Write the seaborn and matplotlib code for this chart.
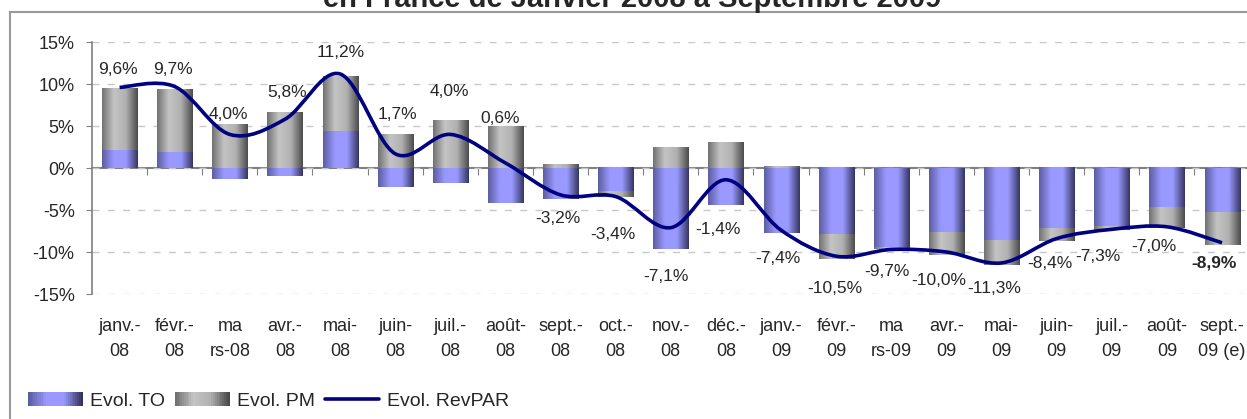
import numpy as np
import seaborn as sns
import matplotlib.pyplot as plt
from matplotlib.colors import LinearSegmentedColormap
from matplotlib.patches import Rectangle, PathPatch
from matplotlib.path import Path
from matplotlib.lines import Line2D
from matplotlib.legend_handler import HandlerBase
from matplotlib.ticker import FuncFormatter

sns.set_style("white")
plt.rcParams["font.family"] = ["Liberation Sans", "DejaVu Sans"]

# %% data
months = ["janv.-\n08", "févr.-\n08", "ma\nrs-08", "avr.-\n08", "mai-\n08", "juin-\n08",
          "juil.-\n08", "août-\n08", "sept.-\n08", "oct.-\n08", "nov.-\n08", "déc.-\n08",
          "janv.-\n09", "févr.-\n09", "ma\nrs-09", "avr.-\n09", "mai-\n09", "juin-\n09",
          "juil.-\n09", "août-\n09", "sept.-\n09 (e)"]
evol_to = [2.2, 1.9, -1.3, -1.0, 4.4, -2.3, -1.8, -4.2, -3.7, -2.9, -9.7, -4.4,
           -7.7, -7.9, -9.5, -7.7, -8.6, -7.2, -7.0, -4.7, -5.3]
evol_pm = [7.3, 7.5, 5.2, 6.6, 6.5, 4.0, 5.6, 4.9, 0.4, -0.6, 2.5, 3.0,
           0.2, -2.9, -0.2, -2.7, -2.9, -1.5, -0.4, -2.4, -3.9]
evol_revpar = [9.6, 9.7, 4.0, 5.8, 11.2, 1.7, 4.0, 0.6, -3.2, -3.4, -7.1, -1.4,
               -7.4, -10.5, -9.7, -10.0, -11.3, -8.4, -7.3, -7.0, -8.9]
revpar_labels = ["9,6%", "9,7%", "4,0%", "5,8%", "11,2%", "1,7%", "4,0%", "0,6%",
                 "-3,2%", "-3,4%", "-7,1%", "-1,4%", "-7,4%", "-10,5%", "-9,7%",
                 "-10,0%", "-11,3%", "-8,4%", "-7,3%", "-7,0%", "-8,9%"]

# label offsets (pixels) as placed in the original chart
lab_dx = [-2, -2, -1, 2, 1, 2, -1, -5, -3, -3, -5, -8, -3, -1, -4, -8, -7, -7, -14, -13, -8]
lab_dy = [18, 17, 20, 27, 21, 39, 43, 44, -24, -38, -49, -50, -28, -32, -22, -28, -26,
          -25, -27, -20, -20]

blue_cmap = LinearSegmentedColormap.from_list("to", ["#5c5ca0", "#9999ff", "#9999ff", "#34345f"], N=256)
gray_cmap = LinearSegmentedColormap.from_list("pm", ["#707070", "#c4c4c4", "#b0b0b0", "#4a4a4a"], N=256)

# %% figure
fig = plt.figure(figsize=(12.47, 4.19), dpi=100)
ax = fig.add_axes([92 / 1247, 0.2983, 0.9283, 0.6014])

x = np.arange(len(months))
to = np.array(evol_to)
pm = np.array(evol_pm)
# excel-like stacking: positive and negative parts stack separately
pm_bottom = np.where(np.sign(pm) == np.sign(to), to, 0.0)

bar_w = 0.635
bars_to = ax.bar(x, to, width=bar_w, color="none", edgecolor="none")
bars_pm = ax.bar(x, pm, width=bar_w, bottom=pm_bottom, color="none", edgecolor="none")

grad = np.linspace(0, 1, 256).reshape(1, -1)
for bars, cmap in [(bars_to, blue_cmap), (bars_pm, gray_cmap)]:
    for p in bars:
        x0, y0, w, h = p.get_x(), p.get_y(), p.get_width(), p.get_height()
        ax.imshow(grad, cmap=cmap, extent=[x0, x0 + w, y0, y0 + h], aspect="auto",
                  interpolation="bilinear", zorder=2)

# smoothed RevPAR line (bezier through the points, like excel smoothing)
pts = np.column_stack([x, evol_revpar]).astype(float)
ext = np.vstack([pts[0], pts, pts[-1]])
verts = [pts[0]]
codes = [Path.MOVETO]
for i in range(len(pts) - 1):
    p0, p1, p2, p3 = ext[i], ext[i + 1], ext[i + 2], ext[i + 3]
    verts += [p1 + (p2 - p0) / 6, p2 - (p3 - p1) / 6, p2]
    codes += [Path.CURVE4] * 3
ax.add_patch(PathPatch(Path(verts, codes), fill=False, edgecolor="#000080", lw=2.6,
                       zorder=4, capstyle="butt"))

for i, (v, t) in enumerate(zip(evol_revpar, revpar_labels)):
    ax.annotate(t, (i, v), xytext=(lab_dx[i] * 0.72, lab_dy[i] * 0.72),
                textcoords="offset points", ha="center", va="center", fontsize=12.5,
                fontweight="bold" if i == len(evol_revpar) - 1 else "normal", zorder=5)

ax.set_xlim(-0.5, len(months) - 0.5)
ax.set_ylim(-15, 15)
ax.set_yticks([-15, -10, -5, 0, 5, 10, 15])
ax.yaxis.set_major_formatter(FuncFormatter(lambda v, _: f"{int(v)}%"))
ax.set_xticks(x)
ax.set_xticklabels(months)
ax.tick_params(axis="x", length=0, pad=17, labelsize=13)
ax.tick_params(axis="y", length=4.5, pad=8, labelsize=13, direction="out", color="#808080", left=True)
ax.yaxis.grid(True, color="#c8c8c8", lw=1, dashes=(5, 6))
ax.set_axisbelow(True)
for s in ["top", "right", "bottom"]:
    ax.spines[s].set_visible(False)
ax.spines["left"].set_color("#808080")
ax.spines["left"].set_linewidth(1.2)

# zero axis with category tick marks
sec = ax.secondary_xaxis(0.5)
sec.xaxis.set_ticks_position("bottom")
sec.set_xticks(x[:-1] + 0.5)
sec.tick_params(axis="x", direction="out", length=5, color="#808080", labelbottom=False, labeltop=False)
for s in sec.spines.values():
    s.set_color("#808080")
    s.set_linewidth(1.5)


# legend with gradient swatches
class HandlerGradient(HandlerBase):
    def __init__(self, cmap):
        super().__init__()
        self.cmap = cmap

    def create_artists(self, legend, orig_handle, xdescent, ydescent, width, height, fontsize, trans):
        n = 30
        out = []
        for k in range(n):
            r = Rectangle((-xdescent + width * k / n, -ydescent), width / n + 0.3, height,
                          facecolor=self.cmap(k / (n - 1)), edgecolor="none", transform=trans)
            out.append(r)
        return out


h_to = Rectangle((0, 0), 1, 1)
h_pm = Rectangle((0, 0), 1, 1)
h_rev = Line2D([], [], color="#000080", lw=2.6)
fig.legend([h_to, h_pm, h_rev], ["Evol. TO", "Evol. PM", "Evol. RevPAR"],
           handler_map={h_to: HandlerGradient(blue_cmap), h_pm: HandlerGradient(gray_cmap)},
           loc="center left", bbox_to_anchor=(28 / 1247, 1 - 401 / 419), ncol=3, frameon=False,
           fontsize=14, handlelength=2.8, handleheight=0.7, handletextpad=0.4,
           columnspacing=0.5, borderpad=0, borderaxespad=0)

# chart frame and cut title
fig.add_artist(Rectangle((10 / 1247, -0.1), 1.2, 1 - 12 / 419 + 0.1, transform=fig.transFigure,
                         fill=False, edgecolor="#999999", lw=1.5, clip_on=False))
fig.text(0.507, 1 - 7 / 419, "en France de Janvier 2008 à Septembre 2009", ha="center",
         va="baseline", fontsize=21, fontweight="bold")

# wider line gap in the two-line month labels
fig.canvas.draw()
for lab in ax.xaxis.get_ticklabels():
    lab.set_linespacing(1.65)

plt.savefig("out.png", dpi=100)
